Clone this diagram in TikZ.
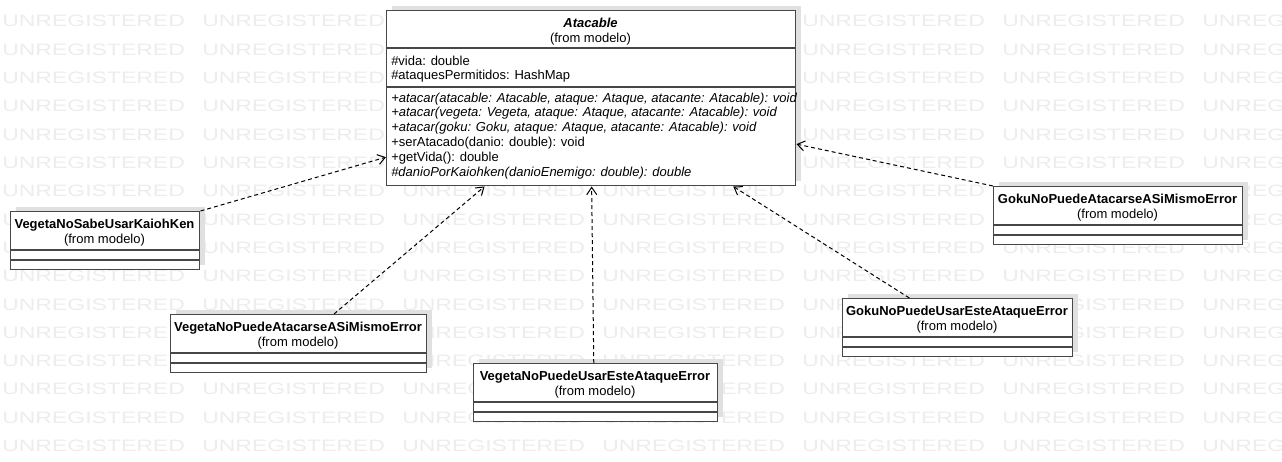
\documentclass[tikz,border=0pt]{standalone}
\usepackage{fontspec}
\setmainfont{Liberation Sans}
\usetikzlibrary{arrows.meta,calc,shadows}
\tikzset{
  umlclass/.style={draw=black!72, line width=1.1pt, fill=white, rectangle, anchor=north west, inner sep=0pt,
    general shadow={fill=black!12, shadow xshift=3.75pt, shadow yshift=3.75pt}},
  umlsep/.style={draw=black!72, line width=1.1pt},
  clsname/.style={font=\fontsize{9.75}{12}\selectfont\bfseries, anchor=base, inner sep=0pt},
  clsfrom/.style={font=\fontsize{9.75}{12}\selectfont, anchor=base, inner sep=0pt},
  member/.style={font=\fontsize{9.75}{12}\selectfont, anchor=base west, inner sep=0pt},
  realize/.style={line width=0.75pt, dash pattern=on 3pt off 2.25pt, -{Straight Barb[length=5.5pt,width=7.5pt]}},
  watermark/.style={text=black!7, font=\fontsize{12.4}{14}\selectfont, anchor=base west, inner sep=0pt}
}
\begin{document}
\begin{tikzpicture}[y=0.75pt, x=0.75pt, yscale=-1, xscale=1]
\clip (0,0) rectangle (1282,461);
\fill[white] (0,0) rectangle (1282,461);
% watermark (words fully under Atacable left out)
\foreach \r in {0,...,15}
  \foreach \c in {0,...,6}{
    \pgfmathtruncatemacro{\hidden}{(\c==2 || \c==3) && \r<6}
    \ifnum\hidden=0
      \node[watermark] (wm-\c-\r) at (200*\c+2, 26.7+28.33*\r) {\scalebox{1.39}[1]{UNREGISTERED}};
    \fi
  }

% interface Atacable
\node[umlclass, minimum width=409*0.75pt, minimum height=175*0.75pt] (atk) at (386,10) {};
\draw[umlsep] (386,48) -- (795,48);
\draw[umlsep] (386,87) -- (795,87);
\node[clsname, font=\fontsize{9.75}{12}\selectfont\bfseries\itshape] (atk-name) at (590.5,27) {Atacable};
\node[clsfrom] (atk-from) at (590.5,42) {(from modelo)};
\node[member] (atk-a1) at (391,65) {\#vida: double};
\node[member] (atk-a2) at (391,79.5) {\#ataquesPermitidos: HashMap};
\node[member] (atk-m1) at (391,102) {\itshape +atacar(atacable: Atacable, ataque: Ataque, atacante: Atacable): void};
\node[member] (atk-m2) at (391,116.9) {\itshape +atacar(vegeta: Vegeta, ataque: Ataque, atacante: Atacable): void};
\node[member] (atk-m3) at (391,131.8) {\itshape +atacar(goku: Goku, ataque: Ataque, atacante: Atacable): void};
\node[member] (atk-m4) at (391,146.7) {+serAtacado(danio: double): void};
\node[member] (atk-m5) at (391,161.6) {+getVida(): double};
\node[member] (atk-m6) at (391,176.5) {\itshape \#danioPorKaiohken(danioEnemigo: double): double};

% error classes
\foreach \nm/\lbl/\x/\y/\w in {vns/VegetaNoSabeUsarKaiohKen/10/211/189,
    vpa/VegetaNoPuedeAtacarseASiMismoError/170/314/256,
    vpu/VegetaNoPuedeUsarEsteAtaqueError/473/363/244,
    gpu/GokuNoPuedeUsarEsteAtaqueError/842/298/230,
    gpa/GokuNoPuedeAtacarseASiMismoError/993/186/249}{
  \node[umlclass, minimum width=\w*0.75pt, minimum height=58*0.75pt] (\nm) at (\x,\y) {};
  \draw[umlsep] (\x,\y+39) -- (\x+\w,\y+39);
  \draw[umlsep] (\x,\y+49) -- (\x+\w,\y+49);
  \node[clsname] (\nm-name) at (\x+\w/2,\y+17) {\lbl};
  \node[clsfrom] (\nm-from) at (\x+\w/2,\y+32) {(from modelo)};
}

% realizations
\draw[realize] (vns.north east) -- ($(atk.north west)!0.834!(atk.south west)$);
\draw[realize] ($(vpa.north west)!0.637!(vpa.north east)$) -- ($(atk.south west)!0.240!(atk.south east)$);
\draw[realize] ($(vpu.north west)!0.492!(vpu.north east)$) -- ($(atk.south west)!0.501!(atk.south east)$);
\draw[realize] ($(gpu.north west)!0.291!(gpu.north east)$) -- ($(atk.south west)!0.846!(atk.south east)$);
\draw[realize] (gpa.north west) -- ($(atk.north east)!0.76!(atk.south east)$);
\end{tikzpicture}
\end{document}
